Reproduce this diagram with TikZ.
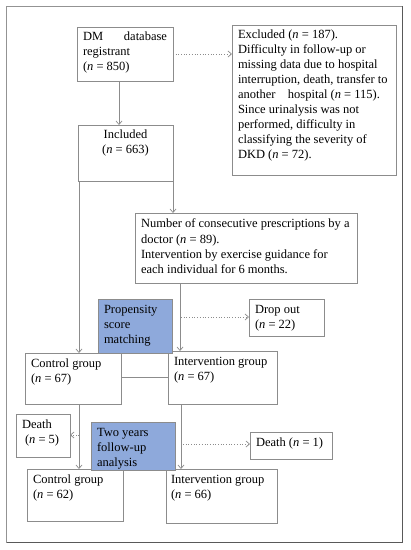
\documentclass[tikz,border=0pt]{standalone}
\usepackage{fontspec}
\setmainfont{Liberation Serif}
\usetikzlibrary{arrows.meta}
\definecolor{linegray}{HTML}{8C8C8C}
\definecolor{boxblue}{HTML}{8EA9DB}
\newcommand{\bxt}[3]{\begin{minipage}[t][#2][t]{#1}\fontsize{12.5bp}{15bp}\selectfont\raggedright\strut #3\end{minipage}}
\newcommand{\nn}{\textit{n}}
\begin{document}
\begin{tikzpicture}[x=1bp,y=-1bp,
  box/.style={draw=linegray, line width=0.7bp, fill=white, anchor=north west, inner xsep=6bp, inner ysep=3.5bp, outer sep=0pt},
  bluebox/.style={box, fill=boxblue},
  arr/.style={draw=linegray, line width=0.7bp, -{Straight Barb[length=3.5bp,width=6bp]}},
  darr/.style={arr, dotted},
  ln/.style={draw=linegray, line width=0.7bp}]
\useasboundingbox (0,0) rectangle (410,550);
% frame
\draw[color=gray!85, line width=1.3bp] (6.5,542.5) -- (6.5,6.5) -- (402.5,6.5);
\draw[color=black!65, line width=1.4bp] (402.5,6.5) -- (402.5,542.5) -- (6.5,542.5);

% boxes
\node[box] (dm) at (77,27) {\bxt{84bp}{47bp}{DM\hfill database\\registrant\\(\nn{} = 850)}};
\node[box] (exc) at (232,25) {\bxt{152bp}{143bp}{Excluded (\nn{} = 187).\\Difficulty in follow-up or\\missing data due to hospital\\interruption, death, transfer to\\another\quad hospital (\nn{} = 115).\\Since urinalysis was not\\performed, difficulty in\\classifying the severity of\\DKD (\nn{} = 72).}};
\node[box] (inc) at (78,125) {\begin{minipage}[t][49bp][t]{83bp}\fontsize{12.5bp}{15bp}\selectfont\centering\strut Included\\(\nn{} = 663)\end{minipage}};
\node[box] (num) at (135,213) {\bxt{210bp}{63bp}{\vspace{1.5bp}Number of consecutive prescriptions by a\\doctor (\nn{} = 89).\\Intervention by exercise guidance for\\each individual for 6 months.}};
\node[box] (drop) at (249,299) {\bxt{63bp}{30bp}{Drop out\\(\nn{} = 22)}};
\node[box] (c1) at (25,353) {\bxt{84bp}{44bp}{Control group\\(\nn{} = 67)}};
\node[box] (i1) at (168,351) {\bxt{97bp}{46bp}{Intervention group\\(\nn{} = 67)}};
\node[box] (d5) at (16,414) {\bxt{42bp}{36bp}{Death\\\hspace*{3bp}(\nn{} = 5)}};
\node[box] (d1) at (250,432) {\bxt{70bp}{20bp}{\vspace{0.5bp}Death (\nn{} = 1)}};
\node[box] (c2) at (27,469) {\bxt{84bp}{45bp}{\vspace{0.5bp}Control group\\(\nn{} = 62)}};
\node[box,inner xsep=5bp] (i2) at (166,469) {\bxt{101bp}{47bp}{\vspace{0.5bp}Intervention group\\(\nn{} = 66)}};

% connector anchor coordinates
\coordinate (dmS) at (119,81);
\coordinate (incTop) at (119,125);
\coordinate (incBL) at (79,181);
\coordinate (c1Top) at (79,353);
\coordinate (incBR) at (173,181);
\coordinate (numTop) at (173,213);
\coordinate (numB) at (180,283);
\coordinate (i1Top) at (180,351);
\coordinate (dropSrc) at (181,317);
\coordinate (c1B) at (79,404);
\coordinate (c2Top) at (79,469);
\coordinate (d5Src) at (79,435);
\coordinate (i1B) at (181,404);
\coordinate (i2Top) at (181,469);
\coordinate (d1Src) at (183,444);

% connectors
\draw[darr] (dm.east) -- (dm.east -| exc.west);
\draw[arr] (dmS) -- (incTop);
\draw[arr] (incBL) -- (c1Top);
\draw[arr] (incBR) -- (numTop);
\draw[arr] (numB) -- (i1Top);
\draw[darr] (dropSrc) -- (dropSrc -| drop.west);
\draw[ln] (c1.east |- 0,377) -- (i1.west |- 0,377);
\draw[arr] (c1B) -- (c2Top);
\draw[darr] (d5Src) -- (d5Src -| d5.east);
\draw[arr] (i1B) -- (i2Top);
\draw[darr] (d1Src) -- (d1Src -| d1.west);

% blue boxes
\node[bluebox] (psm) at (98,299) {\bxt{62bp}{47bp}{Propensity\\score\\matching}};
\node[bluebox] (fu) at (91,422) {\bxt{72bp}{41bp}{Two years\\follow-up\\analysis}};
\end{tikzpicture}
\end{document}
